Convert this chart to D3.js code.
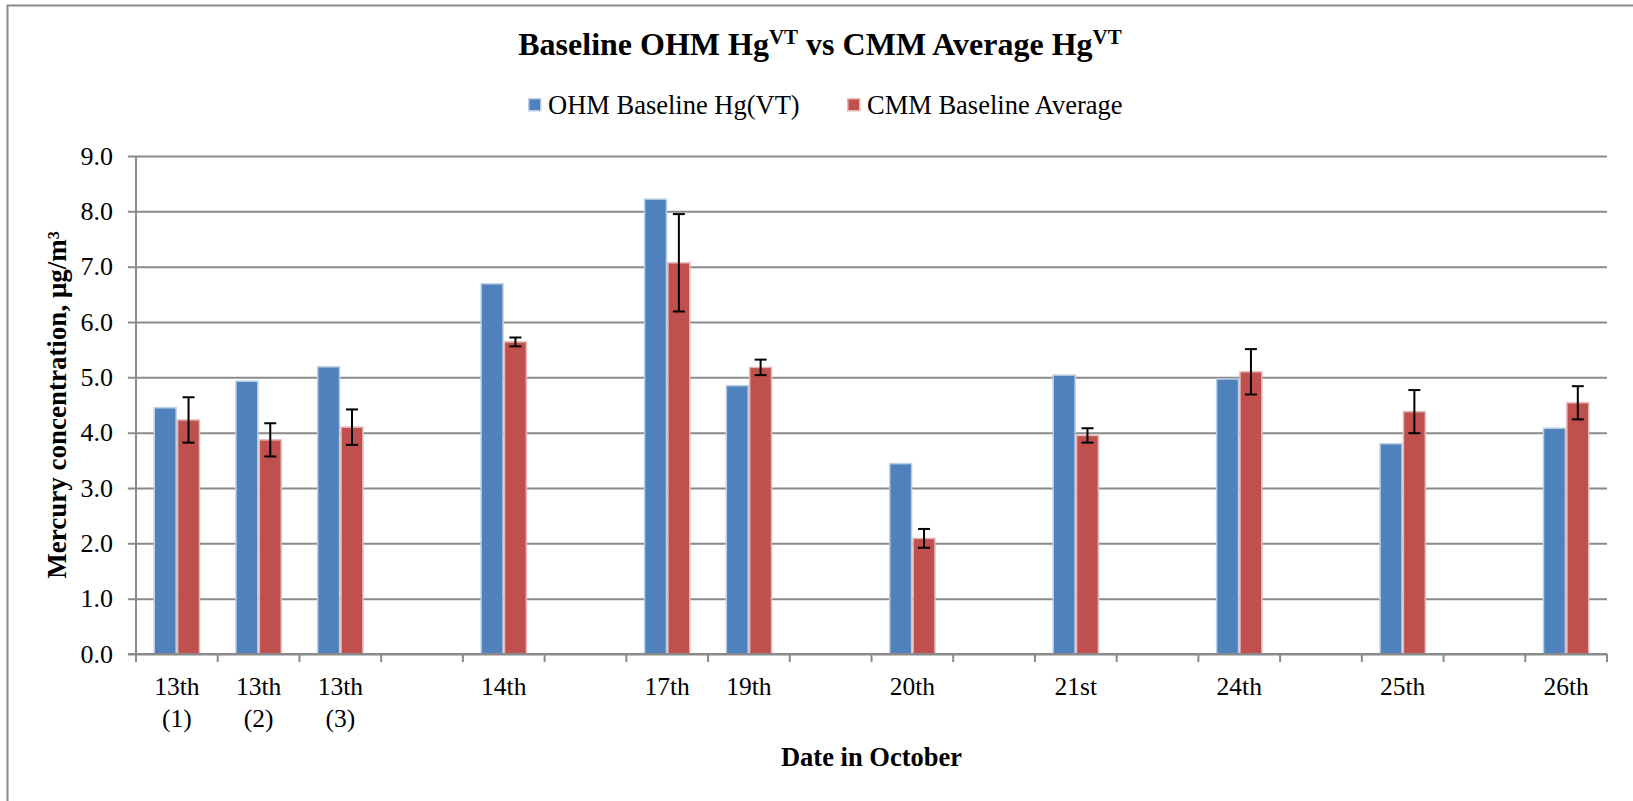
<!DOCTYPE html>
<html>
<head>
<meta charset="utf-8">
<script src="https://cdn.jsdelivr.net/npm/d3@7"></script>
<style>
  html, body { margin: 0; padding: 0; background: #fff; }
  svg { display: block; }
  text { font-family: "Liberation Serif", "Times New Roman", serif; fill: #000; }
</style>
</head>
<body>
<svg id="chart" width="1633" height="801"></svg>
<script>
// ---- data ----
const categories = ["c1","c2","c3","g1","c4","g2","c5","c6","g3","c7","g4","c8","g5","c9","g6","c10","g7","c11"];
const tickLabels = [["13th","(1)"],["13th","(2)"],["13th","(3)"],[""],["14th"],[""],["17th"],["19th"],[""],["20th"],[""],["21st"],[""],["24th"],[""],["25th"],[""],["26th"]];
const seriesNames = ["OHM Baseline Hg(VT)", "CMM Baseline Average"];
const ohmValues = [4.45, 4.93, 5.19, null, 6.69, null, 8.22, 4.85, null, 3.44, null, 5.04, null, 4.97, null, 3.80, null, 4.08];
const cmmValues = [4.23, 3.87, 4.10, null, 5.64, null, 7.07, 5.18, null, 2.09, null, 3.95, null, 5.10, null, 4.38, null, 4.54];
const cmmErrors = [0.41, 0.30, 0.32, null, 0.08, null, 0.88, 0.14, null, 0.17, null, 0.13, null, 0.41, null, 0.39, null, 0.30];
const yTicks = [0,1,2,3,4,5,6,7,8,9];

// ---- layout ----
const svg = d3.select("#chart");
const L = 136, R = 1607, T = 156, B = 654;
const colors = ["#4F81BD", "#C0504D"];
const borders = ["#B9CDE5", "#E6B9B8"];
const gridColor = "#8a8a8a";
const serif = "Liberation Serif";

// outer border
svg.append("rect").attr("x", 7.5).attr("y", 5.5).attr("width", 1660).attr("height", 830)
  .attr("fill", "none").attr("stroke", "#8a8a8a").attr("stroke-width", 2);

const x0 = d3.scaleBand().domain(categories).range([L, R]).padding(0);
const x1 = d3.scaleBand().domain(seriesNames).range([0, x0.bandwidth()]).paddingInner(0).paddingOuter(0.75);
const y = d3.scaleLinear().domain([0, 9]).range([B, T]);

// gridlines + y axis
const yAxis = d3.axisLeft(y).tickValues(yTicks).tickFormat(d3.format(".1f")).tickSize(R - L + 8).tickPadding(15);
const gy = svg.append("g").attr("transform", `translate(${R},0)`).call(yAxis);
gy.attr("font-family", serif);
gy.select(".domain").remove();
gy.selectAll(".tick line").attr("stroke", gridColor).attr("stroke-width", 2);
gy.selectAll(".tick text").attr("font-size", 26).attr("fill", "#000");

// y axis line
svg.append("line").attr("x1", L).attr("x2", L).attr("y1", T).attr("y2", B)
  .attr("stroke", gridColor).attr("stroke-width", 2);

// bars
const rows = categories.map((c, i) => ({c, i, v: [ohmValues[i], cmmValues[i]], e: cmmErrors[i]}));
rows.forEach(r => {
  r.v.forEach((v, s) => {
    if (v == null) return;
    svg.append("rect")
      .attr("x", x0(r.c) + x1(seriesNames[s]) + 0.75)
      .attr("y", y(v))
      .attr("width", x1.bandwidth() - 1.5)
      .attr("height", y(0) - y(v))
      .attr("fill", colors[s])
      .attr("stroke", borders[s])
      .attr("stroke-width", 1.5);
  });
});

// x axis
const xAxisLineG = svg.append("g");
xAxisLineG.append("line").attr("x1", L - 8).attr("x2", R).attr("y1", B).attr("y2", B)
  .attr("stroke", gridColor).attr("stroke-width", 2);
const boundaries = categories.map(c => x0(c)).concat([R]);
xAxisLineG.selectAll("line.tk").data(boundaries).join("line").attr("class", "tk")
  .attr("x1", d => d).attr("x2", d => d).attr("y1", B).attr("y2", B + 8)
  .attr("stroke", gridColor).attr("stroke-width", 2);

// x tick labels
const lbl = svg.append("g").attr("font-family", serif).selectAll("text").data(rows).join("text")
  .attr("x", d => x0(d.c) + x0.bandwidth() / 2)
  .attr("y", 695)
  .attr("text-anchor", "middle")
  .attr("font-size", 25.5);
lbl.each(function(d) {
  const t = d3.select(this);
  tickLabels[d.i].forEach((line, k) => {
    t.append("tspan").attr("x", x0(d.c) + x0.bandwidth() / 2).attr("dy", k === 0 ? 0 : 32).text(line);
  });
});

// error bars
rows.forEach(r => {
  if (r.e == null || r.v[1] == null) return;
  const cx = x0(r.c) + x1(seriesNames[1]) + x1.bandwidth() / 2;
  const g = svg.append("g").attr("stroke", "#000").attr("stroke-width", 2);
  g.append("line").attr("x1", cx).attr("x2", cx).attr("y1", y(r.v[1] + r.e)).attr("y2", y(r.v[1] - r.e));
  [r.v[1] + r.e, r.v[1] - r.e].forEach(v => {
    g.append("line").attr("x1", cx - 6).attr("x2", cx + 6).attr("y1", y(v)).attr("y2", y(v));
  });
});

// title
const title = svg.append("text").attr("x", 820).attr("y", 55).attr("text-anchor", "middle")
  .attr("font-family", serif).attr("font-size", 32).attr("font-weight", "bold");
title.append("tspan").text("Baseline OHM Hg");
title.append("tspan").attr("font-size", 21).attr("dy", -11).text("VT");
title.append("tspan").attr("dy", 11).text(" vs CMM Average Hg");
title.append("tspan").attr("font-size", 21).attr("dy", -11).text("VT");

// legend
const legendX = [528, 847];
seriesNames.forEach((n, s) => {
  svg.append("rect").attr("x", legendX[s] + 0.75).attr("y", 98.75).attr("width", 12).attr("height", 12)
    .attr("fill", colors[s]).attr("stroke", borders[s]).attr("stroke-width", 1.5);
  svg.append("text").attr("x", legendX[s] + 20).attr("y", 114).attr("font-family", serif)
    .attr("font-size", 26.5).text(n);
});

// axis titles
svg.append("text").attr("x", (L + R) / 2).attr("y", 766).attr("text-anchor", "middle")
  .attr("font-family", serif).attr("font-size", 26.5).attr("font-weight", "bold").text("Date in October");
svg.append("text").attr("transform", `translate(66,${(T + B) / 2}) rotate(-90)`).attr("text-anchor", "middle")
  .attr("font-family", serif).attr("font-size", 27).attr("font-weight", "bold").text("Mercury concentration, μg/m³");
</script>
</body>
</html>
